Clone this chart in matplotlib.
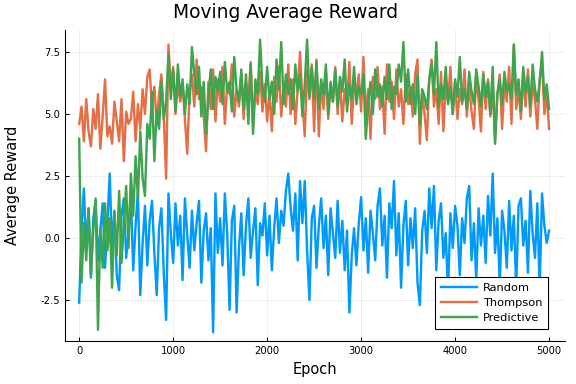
import matplotlib
matplotlib.use("Agg")
import matplotlib.pyplot as plt
import numpy as np

# moving average reward, one value every 25 epochs
epoch_step = 25

random_reward = [
    -2.6, 0.4, 2.0, -0.5, 1.2, -1.6, 0.8, 1.5, -0.9, 0.3,
    1.4, -1.2, 0.6, 2.6, -0.4, 1.1, -1.5, -2.1, 0.9, 1.6,
    -0.8, 0.2, 1.7, -1.3, 0.5, 1.9, -2.3, -0.2, 1.3, -1.1,
    0.7, 1.5, -0.6, -2.3, 0.4, 1.2, -1.4, -3.3, 1.8, 0.2,
    -1.0, 1.4, -0.3, 0.9, -1.7, 1.6, 0.1, -1.2, 1.1, -0.5,
    0.6, 1.5, -1.8, 0.3, 1.0, -0.9, 0.4, -3.8, 1.8, -0.6,
    0.8, -1.1, 1.8, 0.2, -2.9, 0.7, 1.3, -3.0, -0.4, 1.0,
    -1.5, 0.5, 1.6, -0.8, 0.3, 1.2, -1.9, 0.6, 0.1, 1.4,
    -0.7, 0.9, -1.3, 0.4, 1.6, -0.2, 1.1, 0.5, 1.9, 2.6,
    1.2, 0.3, 1.8, -0.9, 2.3, 0.6, 2.3, -0.5, -2.5, 0.8,
    1.3, -1.2, 0.5, 1.6, -0.4, 0.9, -1.5, 1.2, 0.2, -0.8,
    1.5, -0.6, 0.7, -1.3, 0.3, -3.0, -0.7, 0.4, -1.1, 0.6,
    1.65, -0.5, 0.8, -1.4, 1.1, 0.2, -0.9, 1.3, 2.0, -0.3,
    0.9, -1.6, 1.4, 0.4, 2.3, -0.7, 1.0, -2.0, 0.5, 1.5,
    -1.1, 0.8, -0.4, 1.2, -1.8, -2.7, 0.3, 1.1, -0.6, 2.0,
    0.4, 2.1, -1.3, 0.7, 1.4, -0.8, 0.2, -2.2, 1.0, -0.4,
    1.3, 0.5, -1.5, 0.8, -0.2, 1.6, 2.1, -0.9, 0.6, -1.7,
    1.2, -0.3, 0.9, -1.0, 1.7, 0.1, 2.6, -0.6, 0.8, -1.9,
    1.1, 0.3, -1.2, 1.5, -0.5, 0.9, -2.0, 1.3, 1.6, -0.3,
    0.7, -1.4, 1.9, 0.2, -0.8, 1.4, -2.1, 1.8, 0.5, -0.2, 0.3,
]

thompson_reward = [
    4.6, 5.3, 3.9, 5.6, 4.3, 3.7, 5.2, 4.4, 5.8, 3.6,
    4.9, 6.4, 4.1, 4.5, 3.8, 5.5, 4.7, 3.9, 5.6, 3.1,
    5.1, 4.6, 4.8, 5.9, 3.9, 5.4, 4.4, 6.0, 5.0, 6.5,
    6.8, 5.2, 6.1, 4.6, 5.8, 6.6, 4.9, 2.4, 7.8, 6.0,
    6.9, 5.0, 6.3, 5.5, 6.2, 4.8, 3.4, 5.9, 6.6, 5.3,
    7.2, 5.6, 6.1, 4.9, 3.5, 6.3, 5.2, 6.8, 4.7, 6.4,
    5.5, 6.9, 4.6, 6.2, 5.8, 7.0, 4.9, 6.0, 5.3, 6.6,
    4.8, 6.3, 5.6, 7.1, 4.5, 6.0, 5.4, 6.7, 5.1, 6.2,
    4.7, 5.9, 4.3, 6.5, 5.5, 6.9, 4.9, 6.1, 5.3, 7.0,
    5.0, 6.4, 4.6, 6.0, 7.5, 5.5, 4.1, 6.8, 5.6, 7.0,
    4.3, 7.2, 4.1, 6.3, 5.2, 6.7, 4.8, 6.1, 5.5, 6.9,
    5.0, 6.4, 4.7, 6.0, 5.4, 7.1, 4.6, 6.2, 5.8, 6.6,
    5.1, 7.3, 4.9, 6.0, 4.0, 6.5, 5.6, 6.9, 5.2, 6.1,
    4.2, 7.0, 5.5, 6.3, 4.8, 6.8, 5.3, 6.0, 4.6, 6.6,
    5.4, 6.1, 4.9, 6.6, 7.2, 3.8, 5.9, 5.0, 3.95, 6.4,
    7.2, 5.3, 6.0, 4.6, 6.7, 4.3, 6.2, 5.5, 6.9, 5.0,
    6.3, 4.8, 6.0, 5.4, 6.8, 4.9, 6.2, 5.1, 4.4, 6.5,
    5.6, 4.3, 6.7, 5.2, 6.4, 4.9, 6.1, 3.9, 5.8, 6.6,
    4.4, 6.3, 5.5, 6.9, 4.6, 7.8, 5.2, 6.0, 4.8, 6.5,
    5.3, 6.8, 4.9, 6.2, 5.6, 4.4, 6.4, 7.1, 5.0, 5.8, 4.4,
]

predictive_reward = [
    4.0, -1.8, 0.6, -0.9, 1.2, -1.5, 0.3, 1.6, -3.7, 0.4,
    -1.2, 1.4, -0.5, 0.8, -2.0, 1.0, -0.7, 1.9, -1.0, 0.6,
    2.1, -0.4, 2.6, 0.9, 3.3, 1.6, 4.3, 2.4, 1.7, 4.6,
    4.0, 5.9, 3.1, 5.2, 4.4, 6.3, 4.8, 5.5, 7.4, 5.6,
    6.8, 5.1, 7.0, 5.7, 6.4, 5.0, 6.2, 5.4, 7.7, 6.6,
    5.8, 6.9, 4.9, 6.3, 4.2, 5.7, 6.8, 5.2, 6.5, 5.9,
    6.7, 5.4, 7.1, 5.9, 6.3, 5.1, 7.3, 6.0, 5.5, 6.8,
    5.2, 6.6, 4.6, 7.0, 4.2, 6.4, 5.8, 8.0, 6.1, 5.5,
    6.9, 5.6, 6.3, 5.0, 7.2, 6.0, 7.9, 5.4, 6.6, 5.8,
    6.4, 5.2, 7.0, 5.9, 6.6, 4.9, 6.2, 8.0, 5.7, 6.9,
    5.6, 7.1, 5.2, 6.4, 5.8, 7.0, 5.0, 6.3, 5.5, 6.8,
    5.3, 6.5, 5.9, 7.2, 5.1, 6.2, 5.6, 6.9, 5.4, 6.1,
    5.8, 6.6, 4.0, 5.5, 6.3, 5.0, 6.8, 5.7, 6.2, 5.3,
    6.5, 5.6, 7.0, 5.2, 6.1, 5.8, 7.0, 6.3, 7.9, 5.5,
    6.8, 5.4, 6.2, 5.0, 6.6, 4.6, 6.0, 5.7, 5.2, 6.4,
    7.0, 5.8, 7.9, 5.3, 6.2, 5.6, 6.9, 5.4, 6.1, 5.0,
    6.4, 5.7, 7.3, 5.5, 6.0, 5.2, 6.7, 5.9, 5.4, 6.8,
    6.1, 5.3, 6.6, 5.7, 6.3, 5.0, 6.9, 3.8, 5.8, 6.4,
    5.4, 6.7, 5.9, 6.2, 5.6, 7.8, 5.8, 6.4, 5.1, 6.9,
    5.9, 6.5, 5.3, 7.0, 6.0, 5.5, 6.3, 7.5, 5.6, 6.2, 5.2,
]

series = [
    ("Random", random_reward, "#009AFA"),
    ("Thompson", thompson_reward, "#E36F47"),
    ("Predictive", predictive_reward, "#3EA44E"),
]

fig = plt.figure(figsize=(6, 4), dpi=96)
ax = fig.add_axes([0.113, 0.112, 0.868, 0.81])

for name, vals, col in series:
    epochs = np.arange(len(vals)) * epoch_step
    ax.plot(epochs, vals, color=col, lw=1.8, label=name)

ax.set_xlim(-150, 5170)
ax.set_ylim(-4.15, 8.39)
ax.set_xticks([0, 1000, 2000, 3000, 4000, 5000])
ax.set_yticks([-2.5, 0.0, 2.5, 5.0, 7.5])
ax.set_yticklabels(["-2.5", "0.0", "2.5", "5.0", "7.5"])
ax.tick_params(direction="in", length=3, width=0.8, labelsize=7.5, pad=4)
ax.grid(True, color="black", alpha=0.08, lw=0.6)

for s in ["top", "right"]:
    ax.spines[s].set_visible(False)
for s in ["left", "bottom"]:
    ax.spines[s].set_linewidth(0.8)

# title is centred on the whole figure, not the axes
fig.text(0.495, 0.968, "Moving Average Reward", fontsize=14, ha="center", va="center")
ax.set_xlabel("Epoch", fontsize=11, labelpad=4)
ax.set_ylabel("Average Reward", fontsize=11)
ax.yaxis.set_label_coords(-0.09, 0.5)

leg = ax.legend(loc="lower right", bbox_to_anchor=(0.966, 0.039), borderaxespad=0,
                fontsize=8.5, fancybox=False, framealpha=1, edgecolor="black",
                handlelength=3.2, handletextpad=0.5, borderpad=0.5, labelspacing=0.45)
leg.get_frame().set_linewidth(0.8)

fig.savefig("out.png", dpi=96)
